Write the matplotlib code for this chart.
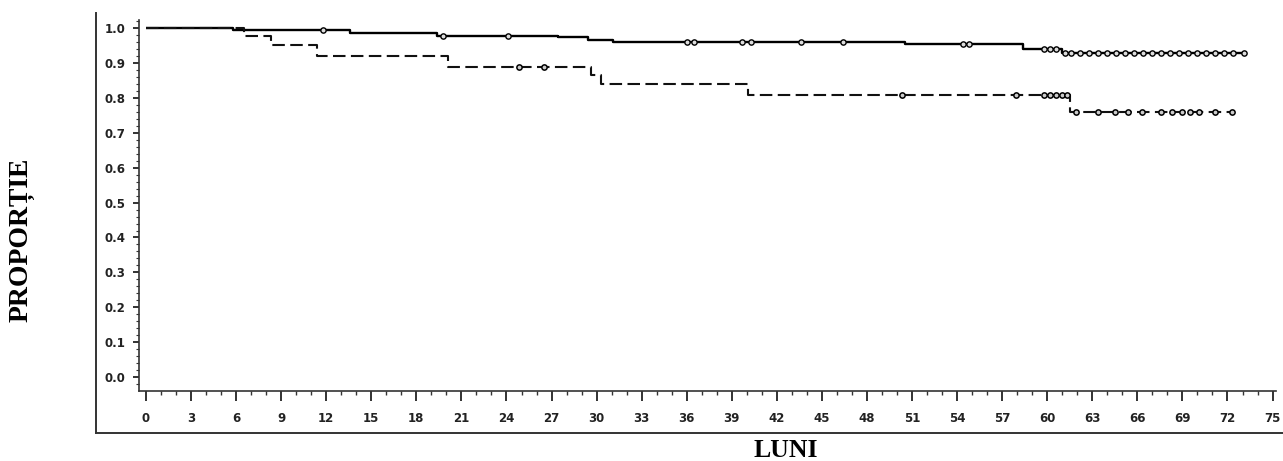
import numpy as np
import matplotlib
matplotlib.use("Agg")
import matplotlib.pyplot as plt
from matplotlib.ticker import MultipleLocator, FormatStrFormatter
from matplotlib.lines import Line2D

# ---- data ----
group1_times = [0, 5.8, 13.6, 19.4, 27.4, 29.4, 31.1, 50.5, 58.4, 61.0]
group1_surv = [1.0, 0.994, 0.985, 0.977, 0.972, 0.966, 0.959, 0.953, 0.940, 0.927]
group1_end = 73.1
group1_censor = [11.8, 19.8, 24.1, 36.0, 36.5, 39.7, 40.3, 43.6, 46.4, 54.4, 54.8,
                 59.8, 60.2, 60.6, 61.2, 61.6, 62.2, 62.8, 63.4, 64.0, 64.6, 65.2,
                 65.8, 66.4, 67.0, 67.6, 68.2, 68.8, 69.4, 70.0, 70.6, 71.2, 71.8,
                 72.4, 73.1]

group2_times = [0, 6.5, 8.3, 11.4, 20.1, 29.6, 30.3, 40.1, 61.5]
group2_surv = [1.0, 0.975, 0.951, 0.918, 0.889, 0.865, 0.840, 0.808, 0.760]
group2_end = 72.3
group2_censor = [24.8, 26.5, 50.3, 57.9, 59.8, 60.2, 60.6, 61.0, 61.3, 61.9,
                 63.4, 64.5, 65.4, 66.3, 67.6, 68.3, 69.0, 69.5, 70.1, 71.2, 72.3]

x_ticks = list(range(0, 76, 3))
y_ticks = [round(0.1 * i, 1) for i in range(11)]
x_label = "LUNI"
y_label = "PROPORȚIE"

# ---- figure ----
W, H = 1283, 461
fig = plt.figure(figsize=(W / 100, H / 100), dpi=100)
fig.patch.set_facecolor("white")

left_px, right_px, top_px, bottom_px = 139, 1276, 20, 391
ax = fig.add_axes([left_px / W, 1 - bottom_px / H,
                   (right_px - left_px) / W, (bottom_px - top_px) / H])

def km_step(times, surv, end):
    t = list(times) + [end]
    s = list(surv) + [surv[-1]]
    return t, s

def surv_at(times, surv, tc):
    idx = np.searchsorted(np.array(times), np.array(tc), side="right") - 1
    return np.array(surv)[idx]

t1, s1 = km_step(group1_times, group1_surv, group1_end)
t2, s2 = km_step(group2_times, group2_surv, group2_end)

ax.step(t1, s1, where="post", color="black", lw=1.7, solid_capstyle="butt")
ax.step(t2, s2, where="post", color="#111111", lw=1.5, linestyle=(0, (6.0, 2.6)))

ax.plot(group1_censor, surv_at(group1_times, group1_surv, group1_censor),
        linestyle="none", marker="o", markersize=3.8, markerfacecolor="#dddddd",
        markeredgecolor="black", markeredgewidth=1.0)
ax.plot(group2_censor, surv_at(group2_times, group2_surv, group2_censor),
        linestyle="none", marker="o", markersize=3.8, markerfacecolor="#cccccc",
        markeredgecolor="black", markeredgewidth=1.1)

ax.set_xlim(-0.466, 75.23)
ax.set_ylim(-0.039, 1.022)

for s in ["top", "right"]:
    ax.spines[s].set_visible(False)
ax.spines["left"].set_color("#333333")
ax.spines["bottom"].set_color("#333333")
ax.spines["left"].set_linewidth(1.2)
ax.spines["bottom"].set_linewidth(1.2)

ax.set_xticks(x_ticks)
ax.set_xticklabels([str(v) for v in x_ticks])
ax.xaxis.set_minor_locator(MultipleLocator(1))
ax.set_yticks(y_ticks)
ax.yaxis.set_major_formatter(FormatStrFormatter("%.1f"))
ax.yaxis.set_minor_locator(MultipleLocator(0.02))

ax.tick_params(axis="x", which="major", direction="out", length=7, width=1.3,
               pad=8, labelsize=8.5, colors="#222222")
ax.tick_params(axis="x", which="minor", direction="out", length=3, width=1.0,
               colors="#333333")
ax.tick_params(axis="y", which="major", direction="out", length=4, width=1.3,
               pad=6, labelsize=8.5, colors="#222222")
ax.tick_params(axis="y", which="minor", direction="out", length=2, width=0.8,
               colors="#333333")
for lab in ax.get_xticklabels() + ax.get_yticklabels():
    lab.set_fontweight("bold")
    lab.set_family("DejaVu Sans")

# outer frame lines (left and bottom)
fig.add_artist(Line2D([96 / W, 96 / W], [1 - 13 / H, 1 - 433 / H],
                      transform=fig.transFigure, color="#333333", lw=1.4))
fig.add_artist(Line2D([96 / W, 1.0], [1 - 433 / H, 1 - 433 / H],
                      transform=fig.transFigure, color="#333333", lw=1.4))

fig.text(786 / W, 1 - 439 / H, x_label, ha="center", va="top",
         family="Liberation Serif", fontweight="bold", fontsize=18.5)
fig.text(22 / W, 1 - 240 / H, y_label, ha="center", va="center", rotation=90,
         family="Liberation Serif", fontweight="bold", fontsize=20)

fig.savefig("out.png", dpi=100, facecolor="white")
